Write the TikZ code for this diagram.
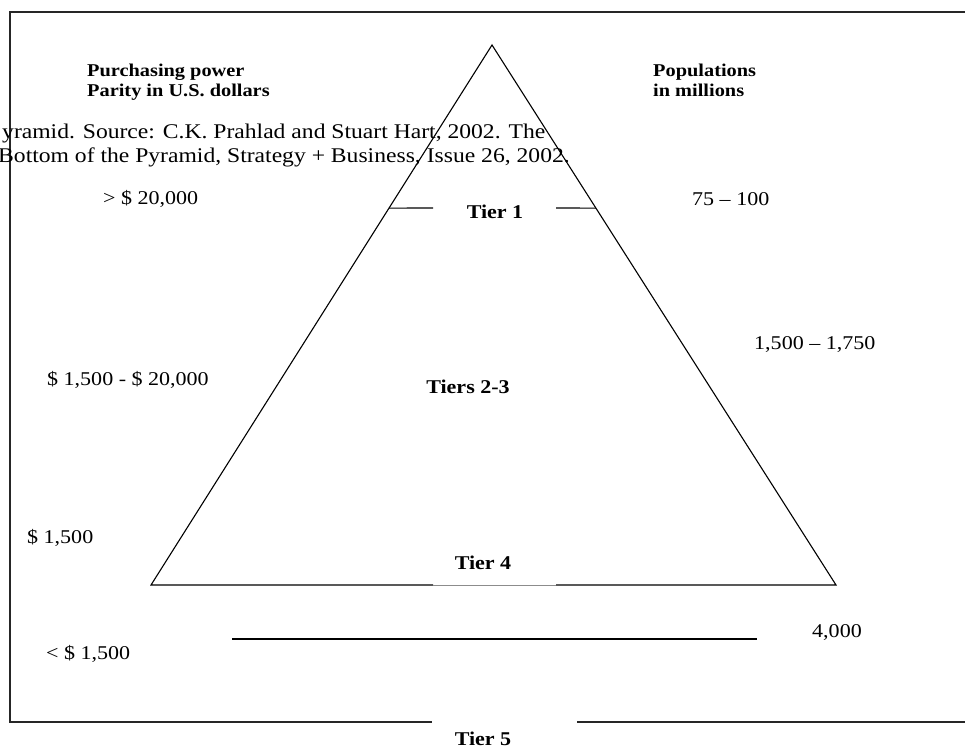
\documentclass[tikz,border=0pt]{standalone}
\usepackage{fontspec}
\setmainfont{Liberation Serif}[FakeStretch=1.13]
\usetikzlibrary{calc}
\begin{document}
\begin{tikzpicture}[x=1pt,y=-1pt,
  frameline/.style={line width=1.8pt, draw=black!85},
  pyrline/.style={line width=1.1pt, draw=black},
  gapline/.style={line width=0.8pt, draw=black!45},
  lbl/.style={inner sep=0pt, anchor=base west, font=\fontsize{19.5}{23}\selectfont},
  hdr/.style={inner sep=0pt, anchor=base west, font=\bfseries\fontsize{18}{20}\selectfont},
  tierlbl/.style={inner sep=0pt, anchor=base, font=\bfseries\fontsize{19.5}{23}\selectfont},
  caplbl/.style={inner sep=0pt, anchor=base west, font=\fontsize{20.9}{24}\selectfont}]
\useasboundingbox (0,0) rectangle (965,749);
\begin{scope}
\clip (0,0) rectangle (965,749);
% frame
\coordinate (FTR) at (966,12);
\coordinate (FTL) at (10,12);
\coordinate (FBL) at (10,722);
\coordinate (FB1) at (432,722);
\coordinate (FB2) at (577,722);
\coordinate (FBR) at (966,722);
\draw[frameline] (FTR) -- (FTL) -- (FBL) -- (FB1);
\draw[frameline] (FB2) -- (FBR);
% pyramid
\coordinate (A) at (492,45);
\coordinate (BL) at (151,585);
\coordinate (BR) at (836,585);
\coordinate (B1) at (433,585);
\coordinate (B2) at (556,585);
\draw[pyrline] (B1) -- (BL) -- (A) -- (BR) -- (B2);
\draw[gapline] (B1) -- (B2);
% tier 1 marks
\coordinate (T1L) at ($(A)!0.302!(BL)$);
\coordinate (T1R) at ($(A)!0.302!(BR)$);
\coordinate (T1a) at (433,208);
\coordinate (T1b) at (556,208);
\draw[pyrline] (T1L) -- (T1a);
\draw[pyrline] (T1b) -- (T1R);
% lower line
\coordinate (LL) at (232,639);
\coordinate (LR) at (757,639);
\draw[pyrline] (LL) -- (LR);
% headings
\node[hdr] (h1) at (87,76.7) {Purchasing power};
\node[hdr] (h2) at (87,96.7) {Parity in U.S. dollars};
\node[hdr] (h3) at (653,76.7) {Populations};
\node[hdr] (h4) at (653,96.7) {in millions};
% caption (clipped at the left, as in the reference)
\node[caplbl] (c1) at (2,138) {yramid. Source: C.K. Prahlad and Stuart Hart, 2002. The};
\node[caplbl] (c2) at (-2,162) {Bottom of the Pyramid, Strategy + Business, Issue 26, 2002.};
% left labels
\node[lbl] (p1) at (103,204) {> \$ 20,000};
\node[lbl] (p2) at (47,385) {\$ 1,500 - \$ 20,000};
\node[lbl] (p3) at (27,543) {\$ 1,500};
\node[lbl] (p4) at (46,659) {< \$ 1,500};
% right labels
\node[lbl] (n1) at (692,205) {75 – 100};
\node[lbl] (n2) at (754,349) {1,500 – 1,750};
\node[lbl] (n3) at (812,637) {4,000};
% tiers
\node[tierlbl] (t1) at (495,218) {Tier 1};
\node[tierlbl] (t2) at (468,393) {Tiers 2-3};
\node[tierlbl] (t4) at (483,569) {Tier 4};
\node[tierlbl] (t5) at (483,745.5) {Tier 5};
\end{scope}
\end{tikzpicture}
\end{document}
